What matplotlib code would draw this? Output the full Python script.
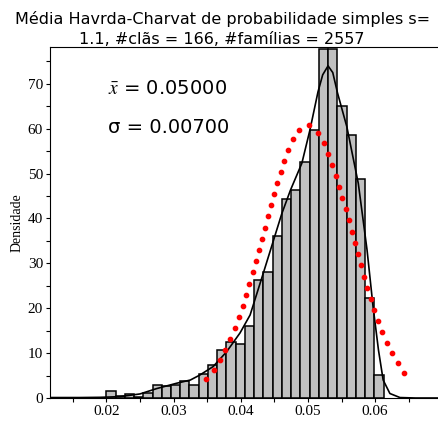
import matplotlib
matplotlib.use('Agg')
import matplotlib.pyplot as plt
import numpy as np

plt.rcParams['mathtext.fontset'] = 'stix'

# histogram: 30 bins between 0.0200 and 0.06125
bin_edges = np.linspace(0.0200, 0.06125, 31)
densidade = [1.5, 0.4, 1.0, 0.3, 1.1, 3.0, 2.6, 2.8, 3.7, 2.8,
             5.3, 7.3, 10.7, 12.5, 12.1, 16.1, 26.4, 28.1, 36.0, 44.3,
             46.3, 52.6, 59.8, 77.7, 77.7, 65.1, 58.6, 48.9, 22.3, 5.1]

# smooth density curve
curva_x = [0.0116, 0.0160, 0.0191, 0.0220, 0.0250, 0.0275, 0.0305, 0.0325, 0.0339,
           0.0359, 0.0379, 0.0399, 0.0414, 0.0434, 0.0461, 0.0474, 0.0491, 0.0503,
           0.0515, 0.0522, 0.0530, 0.0537, 0.0544, 0.0558, 0.0565, 0.0575, 0.0588,
           0.0597, 0.0605, 0.0612, 0.0622, 0.0637, 0.0660, 0.0694]
curva_y = [0.1, 0.1, 0.15, 0.3, 0.9, 2.1, 3.3, 4.0, 5.1,
           7.0, 10.3, 14.5, 18.5, 28.0, 41.0, 46.3, 52.3, 59.7,
           68.2, 72.0, 74.0, 72.5, 68.0, 60.4, 55.2, 47.8, 33.0,
           20.3, 10.7, 4.0, 1.0, 0.1, 0.0, 0.0]

# red dotted normal curve
normal_x = [0.03484, 0.0360, 0.03688, 0.03767, 0.03841, 0.03911, 0.0397, 0.0403,
            0.04079, 0.04128, 0.04179, 0.04223, 0.04272, 0.04317, 0.04362, 0.04402,
            0.04446, 0.04491, 0.04536, 0.04595, 0.0465, 0.04708, 0.04778, 0.04872,
            0.05021, 0.05155, 0.05235, 0.05304, 0.05363, 0.05418, 0.05467, 0.05512,
            0.05562, 0.05607, 0.05652, 0.05696, 0.05741, 0.05786, 0.0583, 0.05879,
            0.05934, 0.05987, 0.06043, 0.0610, 0.0617, 0.0625, 0.0634, 0.0643]
normal_y = [4.3, 6.3, 8.5, 10.8, 13.1, 15.6, 18.0, 20.5,
            23.0, 25.5, 28.0, 30.5, 32.9, 35.4, 37.9, 40.5,
            42.9, 45.5, 47.9, 50.4, 52.8, 55.3, 57.7, 59.8,
            60.8, 59.0, 56.8, 54.4, 52.0, 49.5, 47.1, 44.6,
            42.0, 39.6, 37.0, 34.5, 32.0, 29.6, 27.0, 24.6,
            22.0, 19.6, 17.2, 14.6, 12.2, 9.95, 7.7, 5.6]

x_ticks = [0.02, 0.03, 0.04, 0.05, 0.06]
y_ticks = [0, 10, 20, 30, 40, 50, 60, 70]

fig = plt.figure(figsize=(4.38, 4.23), dpi=100)
ax = fig.add_axes([50 / 438, 25 / 423, 388 / 438, 351 / 423])

ax.bar(bin_edges[:-1], densidade, width=np.diff(bin_edges), align='edge',
       color='#c0c0c0', edgecolor='black', linewidth=1.1, zorder=2)
ax.plot(curva_x, curva_y, color='black', linewidth=1.2, zorder=3)
ax.plot(normal_x, normal_y, linestyle='none', marker='o', markersize=3.1,
        color='red', zorder=4)

ax.set_xlim(0.01162, 0.06936)
ax.set_ylim(0, 78.2)
ax.set_xticks(x_ticks)
ax.set_xticklabels(['0.02', '0.03', '0.04', '0.05', '0.06'])
ax.set_xticks(np.arange(0.015, 0.07, 0.01), minor=True)
ax.set_yticks(y_ticks)
ax.set_yticks(np.arange(5, 80, 10), minor=True)
ax.tick_params(which='both', direction='out', length=3, width=0.8,
               labelsize=11, pad=2)
for lab in ax.get_xticklabels() + ax.get_yticklabels():
    lab.set_family('Liberation Serif')
ax.spines['right'].set_visible(False)
for s in ['left', 'top', 'bottom']:
    ax.spines[s].set_linewidth(0.8)
ax.set_ylabel('Densidade', family='Liberation Serif', fontsize=10, labelpad=3)

ax.text(0.149, 0.883, r'$\bar{x}$ = 0.05000', transform=ax.transAxes,
        fontsize=14, va='center', ha='left')
ax.text(0.149, 0.772, 'σ = 0.00700', transform=ax.transAxes,
        fontsize=14, va='center', ha='left')

fig.text(0.507, 0.974,
         'Média Havrda-Charvat de probabilidade simples s=\n1.1, #clãs = 166, #famílias = 2557',
         ha='center', va='top', fontsize=11.5, linespacing=1.4)

fig.savefig('out.png', dpi=100)
